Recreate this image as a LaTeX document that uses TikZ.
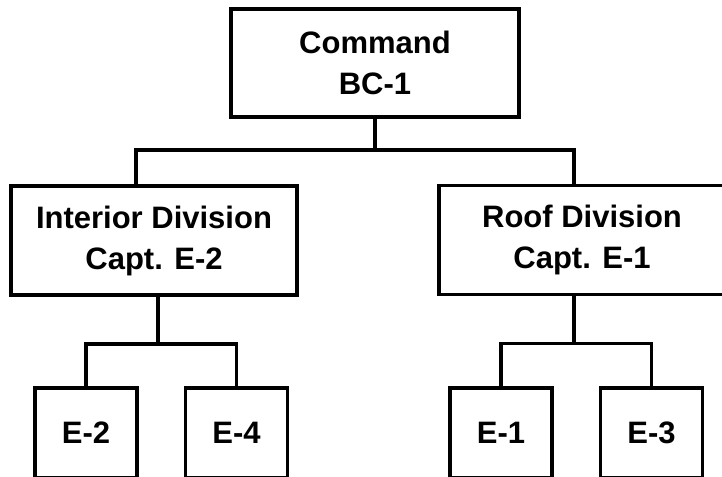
\documentclass[tikz,border=0pt]{standalone}
\usepackage{fontspec}
\setmainfont{Liberation Sans}
\usetikzlibrary{positioning,calc}

\begin{document}
\begin{tikzpicture}[x=0.5pt, y=-0.5pt, line width=1.75pt,
  unit/.style={draw, align=center, font=\fontsize{15.5}{20.5}\selectfont\bfseries, inner sep=0pt},
  divbox/.style={unit, minimum width=143pt, minimum height=54.5pt},
  engbox/.style={unit, minimum width=51pt, minimum height=45pt},
  node distance=22.5pt]
\useasboundingbox (0,0) rectangle (722,476);
\node[unit, minimum width=144pt, minimum height=54pt] (cmd) at (375,63) {Command\\BC-1};
\node[divbox] (int) at (154,240.5) {Interior Division\\Capt. E-2};
\node[divbox] (roof) at (582,240) {Roof Division\\Capt. E-1};
\node[engbox] (e2) at (86,433) {E-2};
\node[engbox, right=of e2] (e4) {E-4};
\node[engbox] (e1) at (501,433) {E-1};
\node[engbox, right=of e1] (e3) {E-3};
% command to divisions
\draw (cmd.south) -- ++(0,31) -| ([xshift=-9pt]int.north);
\draw (cmd.south) -- ++(0,31) -| ([xshift=-4pt]roof.north);
% divisions to engines
\draw ([xshift=2pt]int.south) -- ++(0,47) -| (e2.north);
\draw ([xshift=2pt]int.south) -- ++(0,47) -| (e4.north);
\draw ([xshift=-4pt]roof.south) -- ++(0,47) -| (e1.north);
\draw ([xshift=-4pt]roof.south) -- ++(0,47) -| (e3.north);
\end{tikzpicture}
\end{document}
